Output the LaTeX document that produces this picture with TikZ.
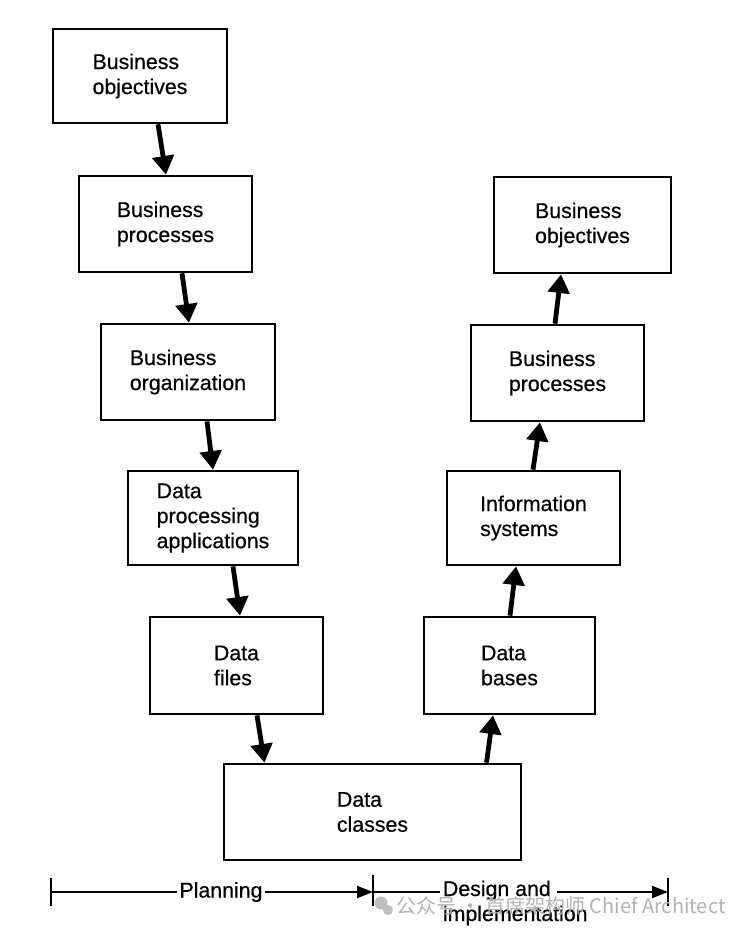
\documentclass[tikz,border=0pt]{standalone}
\usepackage{fontspec}
\setmainfont{Liberation Sans}[FakeBold=0.5]
\newfontfamily\cjk{Noto Sans CJK SC}
\usetikzlibrary{arrows.meta,calc}
\begin{document}
\begin{tikzpicture}[x=0.75pt,y=-0.75pt,
  box/.style={draw, line width=2pt, align=left, inner sep=0pt,
    font=\fontsize{16}{18.75}\selectfont},
  flow/.style={line width=3.6pt, -{Triangle[width=16pt,length=14pt]}},
  lbl/.style={font=\fontsize{16}{18.75}\selectfont, inner sep=2pt, align=left},
  tline/.style={line width=1.5pt},
  tarrow/.style={line width=1.5pt, -{Triangle[width=9pt,length=12pt]}},
  wm/.style={font=\cjk\fontsize{15}{15}\selectfont, text=black!30, inner sep=0pt, anchor=west}]
\useasboundingbox (0,0) rectangle (752,936);
% left column
\node[box, minimum width=130.5pt, minimum height=70.5pt] (b1) at (140,76) {Business\\objectives};
\node[box, minimum width=129.75pt, minimum height=72pt] (b2) at (165.5,224) {Business\\processes};
\node[box, minimum width=130.5pt, minimum height=72pt] (b3) at (188,372) {Business\\organization};
\node[box, minimum width=127.5pt, minimum height=70.5pt] (b4) at (213,518) {Data\\processing\\applications};
\node[box, minimum width=129.75pt, minimum height=72.75pt] (b5) at (236.5,665.5) {Data\\files};
\node[box, minimum width=222.75pt, minimum height=72pt] (b6) at (372.5,812) {Data\\classes};
% right column
\node[box, minimum width=128.25pt, minimum height=72.75pt] (b7) at (509.5,665.5) {Data\\bases};
\node[box, minimum width=129.75pt, minimum height=70.5pt] (b8) at (533.5,518) {Information\\systems};
\node[box, minimum width=129.75pt, minimum height=72pt] (b9) at (557.5,373) {Business\\processes};
\node[box, minimum width=132.75pt, minimum height=72pt] (b10) at (582.5,225) {Business\\objectives};
% arrows down
\draw[flow] ($(b1.south)+(18,0)$) -- ($(b2.north)+(0.5,0)$);
\draw[flow] ($(b2.south)+(16.5,0)$) -- ($(b3.north)+(1,0)$);
\draw[flow] ($(b3.south)+(19,0)$) -- ($(b4.north)+(0,0)$);
\draw[flow] ($(b4.south)+(20,0)$) -- ($(b5.north)+(3.5,0)$);
\draw[flow] ($(b5.south)+(20.5,0)$) -- ($(b6.north)+(-108,0)$);
% arrows up
\draw[flow] ($(b6.north)+(114,0)$) -- ($(b7.south)+(-16.5,0)$);
\draw[flow] ($(b7.north)+(0.5,0)$) -- ($(b8.south)+(-17.5,0)$);
\draw[flow] ($(b8.north)+(-0.5,0)$) -- ($(b9.south)+(-17.5,0)$);
\draw[flow] ($(b9.north)+(-2.5,0)$) -- ($(b10.south)+(-21.5,0)$);
% timeline
\coordinate (tl) at (51,892);
\coordinate (tm) at (373,892);
\coordinate (tr) at (668,892);
\coordinate (dend) at (557,892);
\draw[tline] ($(tl)+(0,-14)$) -- ($(tl)+(0,14)$);
\draw[tline] ($(tm)+(0,-17)$) -- ($(tm)+(0,14)$);
\draw[tline] ($(tr)+(0,-14)$) -- ($(tr)+(0,14)$);
\node[lbl] (plan) at (221,892) {Planning};
\node[lbl, anchor=west] (design) at (440,903) {Design and\\implementation};
\draw[tline] (tl) -- (plan.west);
\draw[tarrow] (plan.east) -- (tm);
\draw[tline] (tm) -- (design.west |- tm);
\draw[tarrow] (dend) -- (tr);
% watermark
\fill[black!25] (381,903) circle (6.5);
\fill[black!25] (388,910) circle (5);
\node[wm] (wmark) at (396,906) {公众号 · 首席架构师 Chief Architect};
\end{tikzpicture}
\end{document}
